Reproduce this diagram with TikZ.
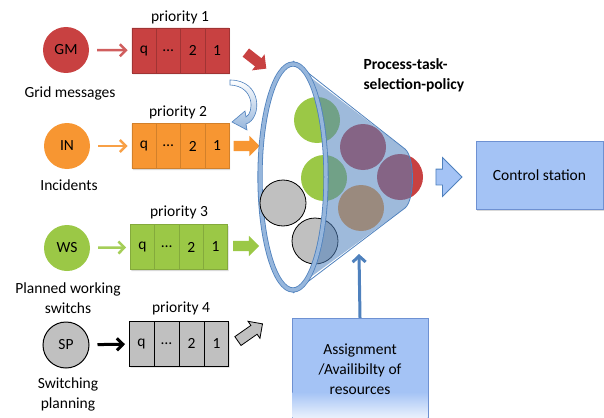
\documentclass[tikz,border=0pt]{standalone}
\usepackage{fontspec}
\setmainfont{Carlito}
\usetikzlibrary{arrows.meta, positioning, shapes.multipart, shapes.arrows, shadows}

\definecolor{taskred}{RGB}{200, 65, 65}
\definecolor{taskorange}{RGB}{247, 150, 50}
\definecolor{taskgreen}{RGB}{155, 200, 70}
\definecolor{taskgrey}{RGB}{192, 192, 192}
\definecolor{funnelblue}{RGB}{79, 129, 189}
\definecolor{rimblue}{RGB}{150, 182, 220}
\definecolor{boxblue}{RGB}{164, 195, 245}
\definecolor{boxline}{RGB}{110, 145, 210}

\begin{document}
\begin{tikzpicture}[x=1pt, y=-1pt,
    font=\fontsize{15.5}{20}\selectfont,
    source/.style={circle, minimum size=46pt, inner sep=0pt},
    task/.style={circle, minimum size=46pt, inner sep=0pt},
    queue/.style={rectangle split, rectangle split horizontal, rectangle split parts=4,
        text width=14pt, align=center, inner xsep=5pt, inner ysep=0pt, minimum height=45pt,
        drop shadow={opacity=0.3, shadow xshift=1pt, shadow yshift=-1.5pt}},
    feed/.style={line width=2.5pt, shorten <=8pt, shorten >=4pt,
        -{Straight Barb[length=6pt, width=12pt]}},
    blockarrow/.style={single arrow, inner sep=5pt, minimum height=26pt,
        single arrow head extend=5pt}]

  \useasboundingbox (0,0) rectangle (604,417);
  \clip (0,0) rectangle (604,417);

  % Sources
  \node[source, fill=taskred] (gm) at (66,50) {GM};
  \node[source, fill=taskorange] (in) at (67,146) {IN};
  \node[source, fill=taskgreen] (ws) at (67,248) {WS};
  \node[source, fill=taskgrey, draw=black, line width=1pt] (sp) at (66,345) {SP};

  \node (gmlabel) at (70,93) {Grid messages};
  \node (inlabel) at (69,185) {Incidents};
  \node[align=center] (wslabel) at (68,298) {Planned working\\switchs};
  \node[align=center] (splabel) at (68,394) {Switching\\planning};

  % Queues
  \node[queue, fill=taskred, draw=taskred!80!black, line width=0.4pt] (q1) at (180.5,50.5)
    {q \nodepart{two} … \nodepart{three} 2 \nodepart{four} 1};
  \node[queue, fill=taskorange, draw=taskorange!85!black, line width=0.4pt] (q2) at (180.5,146)
    {q \nodepart{two} … \nodepart{three} 2 \nodepart{four} 1};
  \node[queue, fill=taskgreen, draw=taskgreen!85!black, line width=0.4pt] (q3) at (179,247)
    {q \nodepart{two} … \nodepart{three} 2 \nodepart{four} 1};
  \node[queue, fill=taskgrey, draw=black, line width=1pt] (q4) at (179,343.5)
    {q \nodepart{two} … \nodepart{three} 2 \nodepart{four} 1};

  \node (p1) at (180,17) {priority 1};
  \node (p2) at (178,112) {priority 2};
  \node (p3) at (179,212) {priority 3};
  \node (p4) at (181,308) {priority 4};

  \draw[feed, taskred!85!white] (gm) -- (q1);
  \draw[feed, taskorange!90!white] (in) -- (q2);
  \draw[feed, taskgreen!90!white] (ws) -- (q3);
  \draw[feed, black, line width=3pt] (sp) -- (q4);

  % Block arrows into the funnel
  \node[blockarrow, fill=taskred, rotate=-38] (r1) at (254,59) {};
  \node[blockarrow, fill=taskorange] (r2) at (244,146) {};
  \node[blockarrow, fill=taskgreen] (r3) at (243.5,246) {};
  \node[blockarrow, fill=taskgrey, draw=black, line width=0.8pt, rotate=35,
        minimum height=30pt] (r4) at (248,334) {};

  % Curved arrow from priority 1 to priority 2
  \draw[funnelblue, line width=0.6pt, top color=white, bottom color=rimblue]
    (230,80) .. controls (263,80) and (262,119) .. (246,124) -- (247,130) -- (232,122)
    -- (245,111) -- (246,117) .. controls (254,113) and (255,86) .. (230,85) -- cycle;

  % Tasks inside the funnel
  \node[task, fill=taskgreen] (t1) at (317,120) {};
  \node[task, fill=taskgreen] (t2) at (324,178) {};
  \node[task, fill=taskred] (t3) at (363,147) {};
  \node[task, fill=taskred] (t4) at (400,177) {};
  \node[task, fill=taskorange] (t5) at (361,208) {};
  \node[task, fill=taskgrey, draw=black, line width=0.8pt] (t6) at (315,241) {};

  % Funnel
  \fill[funnelblue, opacity=0.55]
    (293,64) -- (405,149) .. controls (415,157) and (415,200) .. (405,208) -- (293,290)
    arc[start angle=90, end angle=-90, x radius=33, y radius=113] -- cycle;
  \draw[funnelblue, line width=0.8pt]
    (293,61) -- (405,149) .. controls (415,157) and (415,200) .. (405,208) -- (293,293);
  \draw[funnelblue, line width=0.8pt, double=rimblue, double distance=3.5pt]
    (293,177) ellipse [x radius=33, y radius=113];
  \node[task, fill=taskgrey, draw=black, line width=0.8pt] (t7) at (283,203) {};
  \coordinate (funnelbot) at (359,254);

  \node[font=\fontsize{15.5}{20}\selectfont\bfseries, align=left, anchor=west] (policy)
    at (360,75) {Process-task-\\selection-policy};

  % Control station
  \node[blockarrow, fill=boxblue, draw=funnelblue, line width=0.8pt, inner sep=7.5pt,
        single arrow head extend=11.5pt] (out) at (445,177) {};
  \node[rectangle, fill=boxblue, draw=boxline, minimum width=127pt, minimum height=68pt,
        drop shadow={opacity=0.3, shadow xshift=1pt, shadow yshift=-1.5pt}]
    (control) at (539.5,175) {Control station};

  % Resources
  \node[rectangle, fill=boxblue, draw=boxline, minimum width=136pt, minimum height=102pt,
        align=center] (assign) at (360,369) {};
  \shade[top color=boxblue, bottom color=boxblue!25] (292.5,392) rectangle (427.5,417);
  \node[align=center] (assigntext) at (360,369) {Assignment\\/Availibilty of\\resources};
  \draw[funnelblue, line width=3pt, -{Straight Barb[length=6pt, width=13pt]}]
    (assign.north) -- (funnelbot);
\end{tikzpicture}
\end{document}
